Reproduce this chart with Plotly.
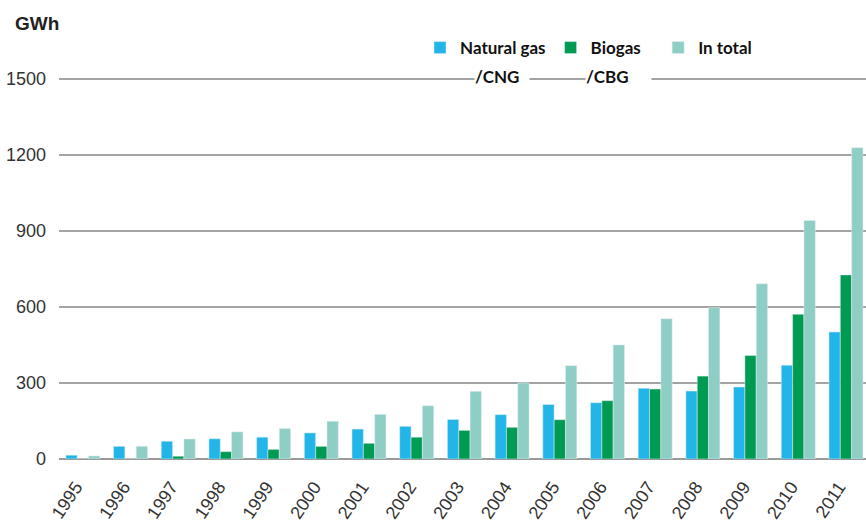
import plotly.graph_objects as go

years = [str(y) for y in range(1995, 2012)]
natural_gas = [15, 50, 70, 80, 86, 103, 118, 129, 156, 175, 215, 222, 279, 268, 284, 370, 501]
biogas = [0, 0, 11, 29, 38, 50, 62, 86, 113, 125, 155, 230, 276, 327, 408, 571, 726]
in_total = [12, 50, 79, 107, 120, 149, 176, 210, 267, 300, 368, 450, 553, 597, 691, 941, 1228]
y_ticks = [0, 300, 600, 900, 1200, 1500]

W, H = 866, 521
L, R, T, B = 59, 0, 66, 62
pw = W - L - R
ph = H - T - B

def px_x(x):
    return (x - L) / pw

def px_y(y):
    return (H - B - y) / ph

fig = go.Figure()
fig.add_bar(x=years, y=natural_gas, name="Natural gas", marker_color="#22B6E8")
fig.add_bar(x=years, y=biogas, name="Biogas\u00a0\u00a0\u00a0", marker_color="#009B52")
fig.add_bar(x=years, y=in_total, name="In total", marker_color="#8FCEC4")

legend_font = dict(family="Lato", size=17, color="#111111")

fig.update_layout(
    width=W, height=H,
    margin=dict(l=L, r=R, t=T, b=B, pad=0, autoexpand=False),
    paper_bgcolor="white", plot_bgcolor="white",
    barmode="group", bargap=0.287, bargroupgap=0,
    showlegend=True,
    legend=dict(orientation="h", x=px_x(420), xanchor="left",
                y=px_y(48), yanchor="middle",
                font=dict(family="Lato", size=17, color="#111111", weight="bold"),
                bgcolor="rgba(0,0,0,0)", traceorder="normal"),
    xaxis=dict(type="category", range=[-0.5, 16.42], showgrid=False,
               tickangle=-56, showline=False, ticks="", automargin=False,
               ticklabelstandoff=13, ticklabelshift=-7,
               tickfont=dict(family="Liberation Sans", size=18, color="#333333")),
    yaxis=dict(range=[0, 1550], tickvals=y_ticks, showgrid=True,
               gridcolor="#A3A3A3", gridwidth=1.6, automargin=False,
               zeroline=True, zerolinecolor="#999999", zerolinewidth=2,
               showline=False, ticks="", ticklabelstandoff=12,
               tickfont=dict(family="Liberation Sans", size=18, color="#333333")),
)

fig.add_annotation(text="<b>GWh</b>", xref="paper", yref="paper",
                   x=px_x(13), y=px_y(23), xanchor="left", yanchor="middle",
                   showarrow=False,
                   font=dict(family="Liberation Sans", size=19, color="#222222"))

for txt, x0, w in [("<b>/CNG</b>", 474, 54), ("<b>/CBG</b>", 585, 65)]:
    fig.add_annotation(text=txt, xref="paper", yref="paper",
                       x=px_x(x0), y=px_y(77), xanchor="left", yanchor="middle",
                       width=w, align="left", bgcolor="white", borderpad=0,
                       showarrow=False, font=legend_font)

fig.write_html("out.html", config={"displayModeBar": False},
               post_script="document.body.style.margin='0';document.body.style.overflow='hidden';")
